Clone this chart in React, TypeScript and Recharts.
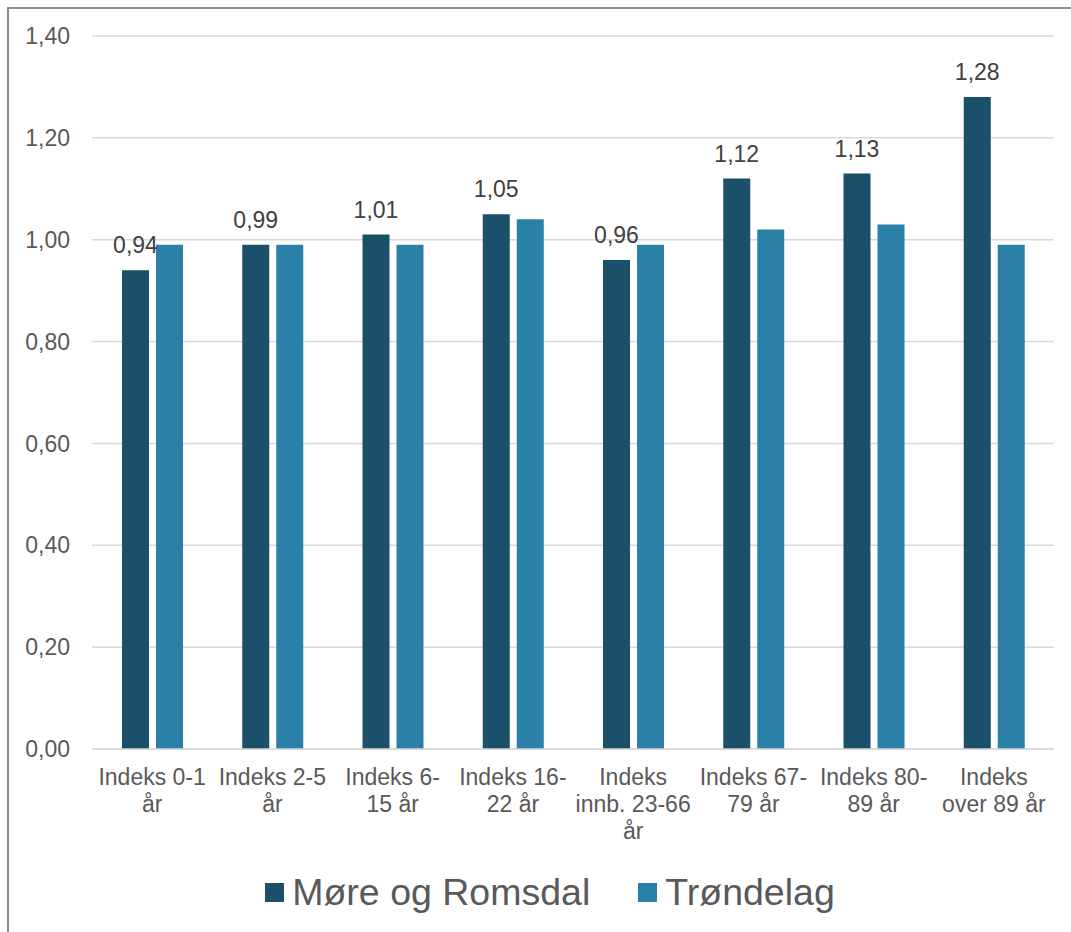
import * as React from "react"
import { BarChart, Bar, XAxis, YAxis, CartesianGrid, Legend, LabelList } from "recharts"

// Category labels, line breaks as in the original chart
const categories = [
  "Indeks 0-1\når",
  "Indeks 2-5\når",
  "Indeks 6-\n15 år",
  "Indeks 16-\n22 år",
  "Indeks\ninnb. 23-66\når",
  "Indeks 67-\n79 år",
  "Indeks 80-\n89 år",
  "Indeks\nover 89 år",
]
const moreRomsdal = [0.94, 0.99, 1.01, 1.05, 0.96, 1.12, 1.13, 1.28]
const trondelag = [0.99, 0.99, 0.99, 1.04, 0.99, 1.02, 1.03, 0.99]
const yTicks = [0, 0.2, 0.4, 0.6, 0.8, 1.0, 1.2, 1.4]

const FONT = "'Liberation Sans', Arial, sans-serif"
const DARK = "#1a5069"
const LIGHT = "#2b80a8"

const fmt = (v: number) => Number(v).toFixed(2).replace(".", ",")

function CategoryTick({ x, y, payload }: any) {
  const lines = String(payload.value).split("\n")
  return (
    <text x={x} y={y} textAnchor="middle" fill="#595959" fontSize={23} fontFamily={FONT}>
      {lines.map((l, i) => (
        <tspan key={i} x={x} dy={i === 0 ? 36 : 27}>
          {l}
        </tspan>
      ))}
    </text>
  )
}

function LegendContent() {
  const items = [
    { name: "Møre og Romsdal", color: DARK },
    { name: "Trøndelag", color: LIGHT },
  ]
  return (
    <div style={{ display: "flex", justifyContent: "center", gap: 48, paddingTop: 22, paddingLeft: 46, fontFamily: FONT }}>
      {items.map((it) => (
        <div key={it.name} style={{ display: "flex", alignItems: "center", gap: 8 }}>
          <div style={{ width: 19, height: 19, background: it.color }} />
          <span style={{ fontSize: 37.5, color: "#595959", lineHeight: "42px" }}>{it.name}</span>
        </div>
      ))}
    </div>
  )
}

export default function App() {
  const data = categories.map((c, i) => ({ name: c, more: moreRomsdal[i], trond: trondelag[i] }))

  return (
    <div style={{ position: "absolute", left: 0, top: 0, width: 1071, height: 932, background: "#fff", overflow: "hidden" }}>
      <div style={{ position: "absolute", left: 7, top: 7, width: 1080, height: 940, border: "2px solid #8c8c8c" }} />
      <BarChart width={1071} height={932} data={data} margin={{ top: 36, right: 17, bottom: 0, left: 0 }} barGap={7}>
        <CartesianGrid vertical={false} stroke="#d9d9d9" strokeWidth={1.5} />
        <XAxis
          dataKey="name"
          height={100}
          tickLine={false}
          axisLine={{ stroke: "#d9d9d9", strokeWidth: 1.5 }}
          tick={<CategoryTick />}
          tickSize={0}
          tickMargin={0}
          interval={0}
        />
        <YAxis
          width={92}
          domain={[0, 1.4]}
          ticks={yTicks}
          tickFormatter={fmt}
          axisLine={false}
          tickLine={false}
          tickSize={0}
          tickMargin={22}
          tick={{ fill: "#595959", fontSize: 23, fontFamily: FONT }}
        />
        <Legend verticalAlign="bottom" height={83} content={<LegendContent />} />
        <Bar dataKey="more" name="Møre og Romsdal" fill={DARK} barSize={27} isAnimationActive={false}>
          <LabelList dataKey="more" position="top" offset={17} formatter={(v: any) => fmt(v)} fill="#404040" fontSize={23} fontFamily={FONT} />
        </Bar>
        <Bar dataKey="trond" name="Trøndelag" fill={LIGHT} barSize={27} isAnimationActive={false} />
      </BarChart>
    </div>
  )
}
